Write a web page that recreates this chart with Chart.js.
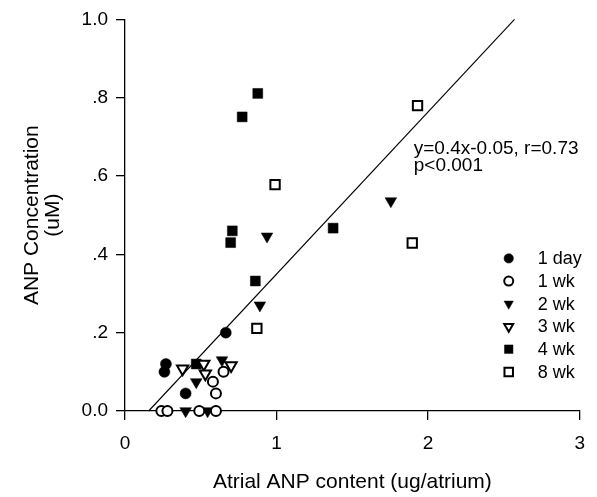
<!DOCTYPE html>
<html>
<head>
<meta charset="utf-8">
<script src="https://cdn.jsdelivr.net/npm/chart.js@4.4.1/dist/chart.umd.min.js"></script>
<style>
    html, body { margin: 0; padding: 0; background: #fff; }
    #wrap { width: 597px; height: 497px; position: relative; }
</style>
</head>
<body>
<div id="wrap"><canvas id="anpChart"></canvas></div>
<script>
// ========== 数据 ==========
const seriesLabels = ['1 day', '1 wk', '2 wk', '3 wk', '4 wk', '8 wk'];

const day1X = [0.27, 0.26, 0.40, 0.665];
const day1Y = [0.12, 0.10, 0.045, 0.20];

const wk1X = [0.24, 0.28, 0.49, 0.60, 0.58, 0.65, 0.60];
const wk1Y = [0, 0, 0, 0, 0.075, 0.10, 0.045];

const wk2X = [0.40, 0.545, 0.47, 0.64, 0.89, 0.937, 1.754];
const wk2Y = [0, 0, 0.074, 0.13, 0.27, 0.446, 0.536];

const wk3X = [0.38, 0.52, 0.53, 0.70];
const wk3Y = [0.108, 0.12, 0.095, 0.116];

const wk4X = [0.47, 0.86, 0.697, 0.708, 0.773, 0.876, 1.373];
const wk4Y = [0.12, 0.332, 0.43, 0.46, 0.751, 0.811, 0.467];

const wk8X = [0.87, 0.99, 1.895, 1.93];
const wk8Y = [0.211, 0.578, 0.429, 0.78];

// 回归线两端
const fitX = [0.156, 2.57];
const fitY = [0, 1.0];

const xTicks = [0, 1, 2, 3];
const yTickLabels = ['0.0', '.2', '.4', '.6', '.8', '1.0'];

const noteLines = ['y=0.4x-0.05, r=0.73', 'p<0.001'];
const noteAnchor = [1.905, 0.669];

const FONT = '"Liberation Sans", Arial, Helvetica, sans-serif';

function pairs(xs, ys) {
    return xs.map((x, i) => ({ x: x, y: ys[i] }));
}

// 每组的标记样式
const markerStyles = [
    { pointStyle: 'circle',   filled: true,  rotation: 0,   radius: 5.5, legendRadius: 4.7 },
    { pointStyle: 'circle',   filled: false, rotation: 0,   radius: 5,   legendRadius: 4.5 },
    { pointStyle: 'triangle', filled: true,  rotation: 180, radius: 6.7, legendRadius: 5.4 },
    { pointStyle: 'triangle', filled: false, rotation: 180, radius: 6.5, legendRadius: 5.2 },
    { pointStyle: 'rect',     filled: true,  rotation: 0,   radius: 7,   legendRadius: 6 },
    { pointStyle: 'rect',     filled: false, rotation: 0,   radius: 6.6, legendRadius: 6 }
];

const seriesData = [
    pairs(day1X, day1Y), pairs(wk1X, wk1Y), pairs(wk2X, wk2Y),
    pairs(wk3X, wk3Y), pairs(wk4X, wk4Y), pairs(wk8X, wk8Y)
];

const datasets = seriesLabels.map((label, i) => {
    const st = markerStyles[i];
    return {
        label: label,
        data: seriesData[i],
        pointStyle: st.pointStyle,
        pointRotation: st.rotation,
        pointRadius: st.radius,
        pointHoverRadius: st.radius,
        pointBackgroundColor: st.filled ? '#000' : '#fff',
        pointBorderColor: '#000',
        pointBorderWidth: st.filled ? 0.5 : 2,
        clip: false
    };
});

datasets.push({
    label: 'fit',
    type: 'line',
    data: pairs(fitX, fitY),
    borderColor: '#000',
    borderWidth: 1.1,
    pointRadius: 0,
    fill: false,
    clip: false
});

// ========== 图例 + 回归方程 ==========
const notesPlugin = {
    id: 'notes',
    afterDatasetsDraw(chart) {
        const { ctx, chartArea, scales } = chart;
        ctx.save();
        ctx.textBaseline = 'middle';
        ctx.textAlign = 'left';

        // 回归方程
        ctx.font = '19px ' + FONT;
        ctx.fillStyle = '#000';
        const nx = scales.x.getPixelForValue(noteAnchor[0]);
        const ny = scales.y.getPixelForValue(noteAnchor[1]);
        noteLines.forEach((t, i) => ctx.fillText(t, nx, ny + i * 17));

        // 图例
        const lx = chartArea.right - 71;
        const ly = chartArea.top + 239;
        seriesLabels.forEach((label, i) => {
            const st = markerStyles[i];
            const y = ly + i * 22.7;
            ctx.fillStyle = st.filled ? '#000' : '#fff';
            ctx.strokeStyle = '#000';
            ctx.lineWidth = st.filled ? 0.5 : 2;
            Chart.helpers.drawPoint(ctx, {
                pointStyle: st.pointStyle,
                radius: st.legendRadius,
                rotation: st.rotation,
                borderWidth: ctx.lineWidth
            }, lx, y);
            ctx.fillStyle = '#000';
            ctx.font = '18px ' + FONT;
            ctx.fillText(label, lx + 29, y + 1);
        });
        ctx.restore();
    }
};

const axisGrid = {
    drawOnChartArea: false,
    drawTicks: true,
    tickLength: 9,
    color: '#000',
    lineWidth: 1.3
};

new Chart(document.getElementById('anpChart'), {
    type: 'scatter',
    data: { datasets: datasets },
    plugins: [notesPlugin],
    options: {
        responsive: true,
        maintainAspectRatio: false,
        animation: false,
        layout: { padding: { top: 16, right: 13, left: 0, bottom: 0 } },
        plugins: {
            legend: { display: false },
            tooltip: { enabled: false }
        },
        scales: {
            x: {
                type: 'linear',
                min: xTicks[0],
                max: xTicks[xTicks.length - 1],
                afterBuildTicks: (s) => { s.ticks = xTicks.map(v => ({ value: v })); },
                ticks: {
                    color: '#000',
                    padding: 12,
                    maxRotation: 0,
                    font: { family: FONT, size: 19 }
                },
                grid: axisGrid,
                border: { display: true, color: '#000', width: 1.3 },
                title: {
                    display: true,
                    text: 'Atrial ANP content (ug/atrium)',
                    color: '#000',
                    font: { family: FONT, size: 21, lineHeight: 1.2 },
                    padding: { top: 0, bottom: 2 }
                },
                afterFit: (s) => { s.height = 86; }
            },
            y: {
                type: 'linear',
                min: 0,
                max: 1,
                ticks: {
                    stepSize: 0.2,
                    color: '#000',
                    padding: 8,
                    font: { family: FONT, size: 19 },
                    callback: (v, i) => yTickLabels[i]
                },
                grid: axisGrid,
                border: { display: true, color: '#000', width: 1.3 },
                title: {
                    display: true,
                    text: ['ANP Concentration', '(uM)'],
                    color: '#000',
                    font: { family: FONT, size: 21, lineHeight: 1.03 },
                    padding: { top: 21, bottom: 0 }
                },
                afterFit: (s) => { s.width = 125; }
            }
        }
    }
});
</script>
</body>
</html>
